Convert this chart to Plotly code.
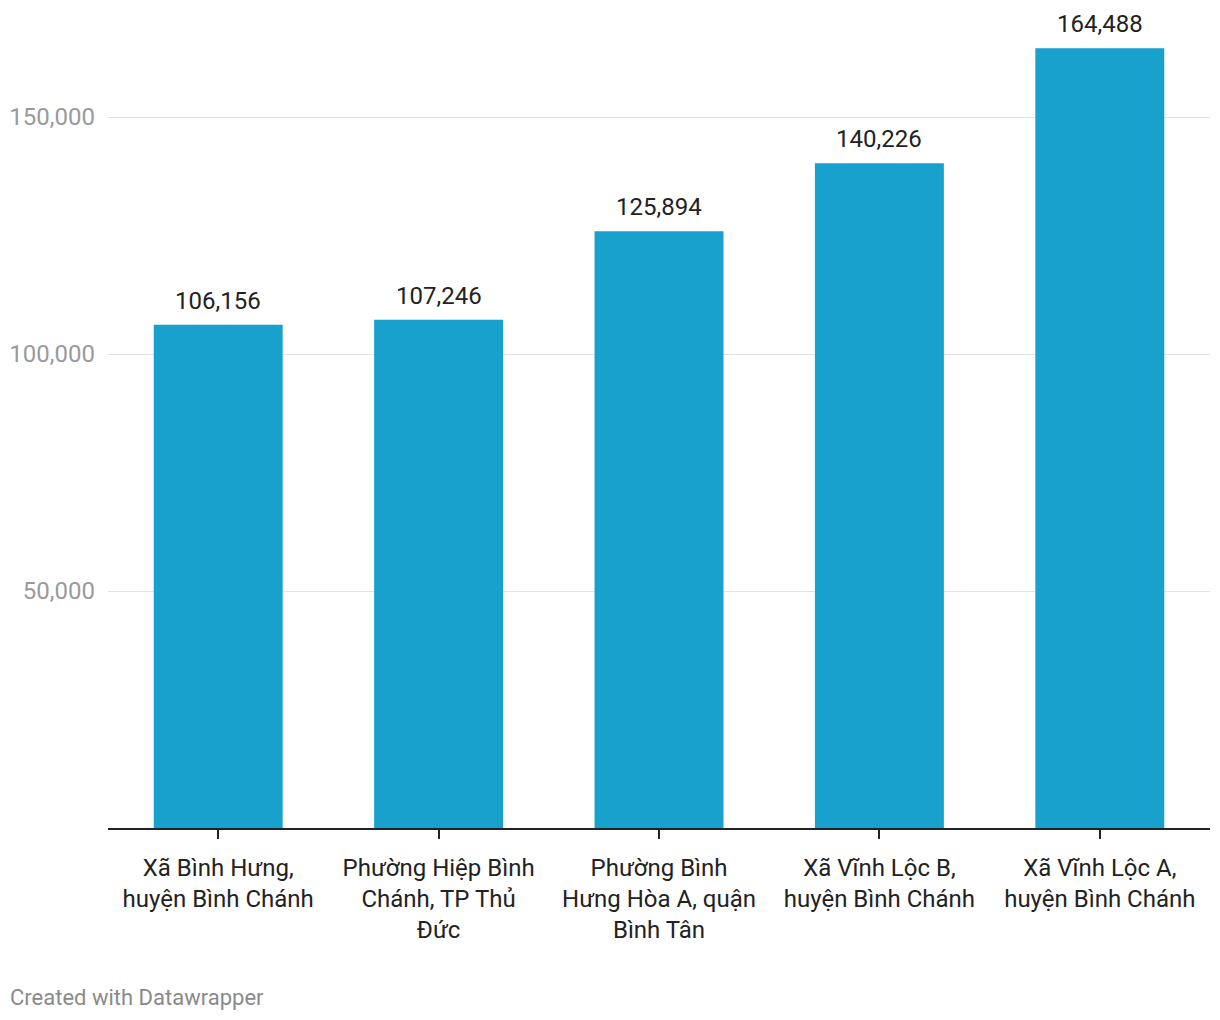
import plotly.graph_objects as go

categories = [
    "Xã Bình Hưng,<br>huyện Bình Chánh",
    "Phường Hiệp Bình<br>Chánh, TP Thủ<br>Đức",
    "Phường Bình<br>Hưng Hòa A, quận<br>Bình Tân",
    "Xã Vĩnh Lộc B,<br>huyện Bình Chánh",
    "Xã Vĩnh Lộc A,<br>huyện Bình Chánh",
]
values = [106156, 107246, 125894, 140226, 164488]
y_ticks = [50000, 100000, 150000]
y_tick_labels = ["50,000", "100,000", "150,000"]

fig = go.Figure(
    go.Bar(
        x=categories,
        y=values,
        marker=dict(color="#18a1cd", line=dict(width=0)),
        hoverinfo="skip",
    )
)

for c, v in zip(categories, values):
    fig.add_annotation(
        x=c, y=v, text=f"{v:,}",
        showarrow=False, yanchor="middle", yshift=24,
        font=dict(family="Roboto", size=24, color="#222222"),
    )

# page body has an 8px default margin, so the figure is offset by 8px
fig.update_layout(
    width=1212,
    height=1012,
    margin=dict(l=100, r=10, t=12, b=192),
    paper_bgcolor="white",
    plot_bgcolor="white",
    bargap=0.415,
    showlegend=False,
    font=dict(family="Roboto", size=24, color="#222222"),
)

fig.update_yaxes(
    range=[0, 170464],
    tickvals=y_ticks,
    ticktext=y_tick_labels,
    tickfont=dict(family="Roboto", size=24, color="#9a9a9a"),
    showgrid=True,
    gridcolor="#e3e3e3",
    gridwidth=1,
    zeroline=False,
    showline=False,
    ticks="",
    ticklabelstandoff=12,
    automargin=False,
)

fig.update_xaxes(
    showline=True,
    linecolor="#222222",
    linewidth=2,
    ticks="outside",
    ticklen=9,
    tickwidth=2,
    tickcolor="#222222",
    tickfont=dict(family="Roboto", size=24, color="#222222"),
    ticklabelstandoff=8,
    automargin=False,
)

fig.add_annotation(
    text="Created with Datawrapper",
    xref="paper", yref="paper",
    x=(0 - 100) / 1102, y=-(997 - 828) / 808,
    xanchor="left", yanchor="middle",
    showarrow=False,
    font=dict(family="Roboto", size=22, color="#8a8a8a"),
)

fig.write_html("out.html")
